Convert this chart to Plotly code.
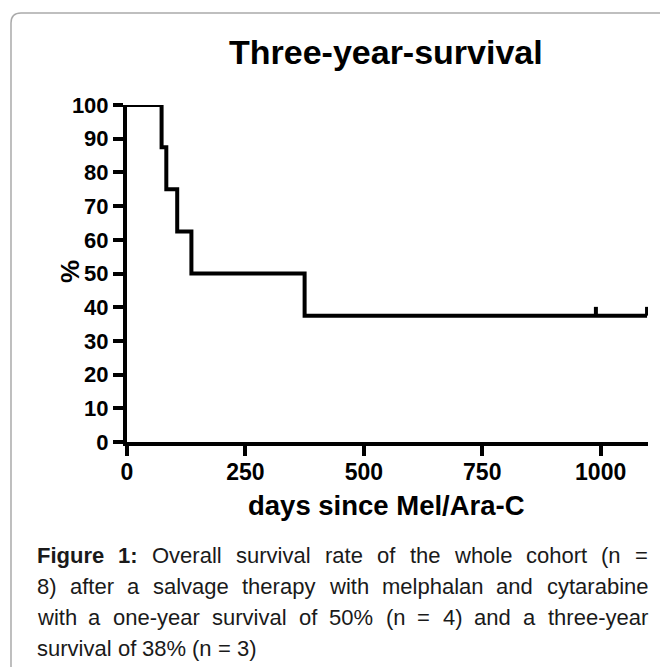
import plotly.graph_objects as go

# ---- data ----
event_days = [0, 73, 83, 106, 136, 375, 1098]
survival_pct = [100, 87.5, 75, 62.5, 50, 37.5, 37.5]
censor_days = [990, 1098]
censor_pct = [37.5, 37.5]
x_ticks = [0, 250, 500, 750, 1000]
y_ticks = [0, 10, 20, 30, 40, 50, 60, 70, 80, 90, 100]

title_text = "Three-year-survival"
x_title = "days since Mel/Ara-C"
y_title = "%"
caption_lines = [
    [("Figure", True), ("1:", True), ("Overall", False), ("survival", False), ("rate", False),
     ("of", False), ("the", False), ("whole", False), ("cohort", False), ("(n", False), ("=", False)],
    [(w, False) for w in "8) after a salvage therapy with melphalan and cytarabine".split()],
    [(w, False) for w in "with a one-year survival of 50% (n = 4) and a three-year".split()],
    [(w, False) for w in "survival of 38% (n = 3)".split()],
]

# ---- layout geometry ----
W_FIG, H_FIG = 660, 667
L, R, T, B = 127, 12, 105, 225
PW, PH = W_FIG - L - R, H_FIG - T - B
FONT = "Liberation Sans, Arial, sans-serif"


def px(xp):
    return (xp - L) / PW


def py(yp):
    return 1 - (yp - T) / PH


# Arial widths (per 1000 em)
REG = {' ': 278, '(': 333, ')': 333, '%': 889, '-': 333, '=': 584, ':': 278,
       'a': 556, 'b': 556, 'c': 500, 'd': 556, 'e': 556, 'f': 278, 'g': 556, 'h': 556,
       'i': 222, 'j': 222, 'k': 500, 'l': 222, 'm': 833, 'n': 556, 'o': 556, 'p': 556,
       'q': 556, 'r': 333, 's': 500, 't': 278, 'u': 556, 'v': 500, 'w': 722, 'x': 500,
       'y': 500, 'z': 500, 'O': 778, 'F': 611}
BOLD = {' ': 278, ':': 333, 'F': 611, 'i': 278, 'g': 611, 'u': 611, 'r': 389, 'e': 556}
for d in '0123456789':
    REG[d] = 556
    BOLD[d] = 556


def text_width(word, bold, size):
    table = BOLD if bold else REG
    return sum(table.get(c, 556) for c in word) * size / 1000.0


fig = go.Figure()

fig.add_trace(go.Scatter(
    x=event_days, y=survival_pct, mode="lines", line_shape="hv",
    line=dict(color="black", width=4), cliponaxis=False, hoverinfo="skip",
    showlegend=False))

cx, cy = [], []
for d, p in zip(censor_days, censor_pct):
    cx += [d, d, None]
    cy += [p, p + 2.6, None]
fig.add_trace(go.Scatter(
    x=cx, y=cy, mode="lines", line=dict(color="black", width=4),
    cliponaxis=False, hoverinfo="skip", showlegend=False))

annotations = []
annotations.append(dict(text="<b>%s</b>" % title_text, x=px(386), y=py(52), xref="paper", yref="paper",
                        showarrow=False, font=dict(family=FONT, size=34, color="black"),
                        xanchor="center", yanchor="middle"))
annotations.append(dict(text="<b>%s</b>" % x_title, x=px(386), y=py(506), xref="paper", yref="paper",
                        showarrow=False, font=dict(family=FONT, size=27.5, color="black"),
                        xanchor="center", yanchor="middle"))
annotations.append(dict(text="<b>%s</b>" % y_title, x=px(70), y=py(272), xref="paper", yref="paper",
                        showarrow=False, font=dict(family=FONT, size=26, color="black"),
                        textangle=-90, xanchor="center", yanchor="middle"))

# caption, justified word by word
CAP_SIZE = 22
left_px, right_px = 36, 647
baselines = [562, 593, 624, 655]
for i, (words, base) in enumerate(zip(caption_lines, baselines)):
    widths = [text_width(w, b, CAP_SIZE) for w, b in words]
    last = i == len(caption_lines) - 1
    if last or len(words) == 1:
        gap = REG[' '] * CAP_SIZE / 1000.0
    else:
        gap = (right_px - left_px - sum(widths)) / (len(words) - 1)
    xcur = left_px
    for (w, b), wd in zip(words, widths):
        annotations.append(dict(
            text=("<b>%s</b>" % w) if b else w, x=px(xcur), y=py(base - 7),
            xref="paper", yref="paper", showarrow=False,
            font=dict(family=FONT, size=CAP_SIZE, color="#1a1a1a"),
            xanchor="left", yanchor="middle", borderpad=0))
        xcur += wd + gap

shapes = [dict(type="path", xref="paper", yref="paper",
               path="M %f,%f L %f,%f Q %f,%f %f,%f L %f,%f" % (
                   px(11), py(680), px(11), py(23), px(11), py(13), px(21), py(13), px(700), py(13)),
               line=dict(color="#aaaaaa", width=1.5), layer="below")]

fig.update_layout(
    width=W_FIG, height=H_FIG,
    margin=dict(l=L, r=R, t=T, b=B),
    paper_bgcolor="white", plot_bgcolor="white",
    annotations=annotations, shapes=shapes,
    xaxis=dict(range=[0, 1100], tickvals=x_ticks, ticktext=["<b>%d</b>" % v for v in x_ticks],
               showgrid=False, zeroline=False, showline=True, linecolor="black", linewidth=4,
               ticks="outside", ticklen=10, tickwidth=4, tickcolor="black",
               ticklabelstandoff=-4,
               tickfont=dict(family=FONT, size=23, color="black")),
    yaxis=dict(range=[0, 100], tickvals=y_ticks, ticktext=["<b>%d</b>" % v for v in y_ticks],
               showgrid=False, zeroline=False, showline=True, linecolor="black", linewidth=4,
               ticks="outside", ticklen=10, tickwidth=4, tickcolor="black",
               tickfont=dict(family=FONT, size=22, color="black")),
)

fig.write_html("out.html", config={"displayModeBar": False},
               post_script="document.body.style.margin='0';document.body.style.overflow='hidden';")
